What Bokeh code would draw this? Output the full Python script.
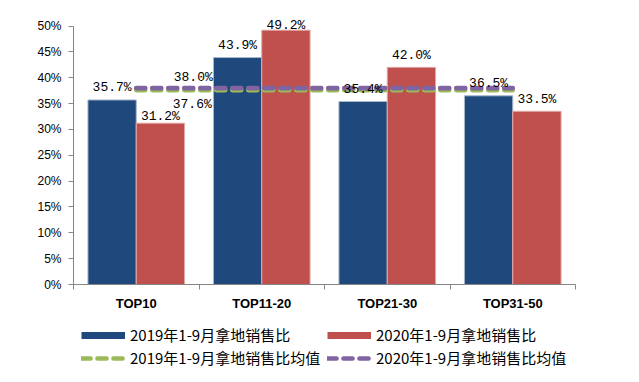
from bokeh.plotting import figure
from bokeh.layouts import column
from bokeh.models import (FixedTicker, PrintfTickFormatter, Legend, LegendItem,
                          ColumnDataSource, Range1d)
from bokeh.core.properties import value
from bokeh.embed import file_html
from bokeh.resources import INLINE

# ---------------- data ----------------
categories = ["TOP10", "TOP11-20", "TOP21-30", "TOP31-50"]
ratio_2019 = [35.7, 43.9, 35.4, 36.5]
ratio_2020 = [31.2, 49.2, 42.0, 33.5]
avg_2019 = [37.6, 37.6, 37.6, 37.6]
avg_2020 = [38.0, 38.0, 38.0, 38.0]
y_ticks = [0, 5, 10, 15, 20, 25, 30, 35, 40, 45, 50]
series_names = ["2019年1-9月拿地销售比", "2020年1-9月拿地销售比",
                "2019年1-9月拿地销售比均值", "2020年1-9月拿地销售比均值"]

# ---------------- styles ----------------
BLUE, RED, GREEN, PURPLE = "#1F497D", "#C0504D", "#9BBB59", "#8064A2"
label_off_2019 = [-12, -12, -12, -12]
label_off_2020 = [-7, -5, -12, -12]
bw = 0.385
LABEL_FONT = value("Liberation Mono")
DASH = "9 7"

n = len(categories)
pos = [i + 0.5 for i in range(n)]

p = figure(width=623, height=318, x_range=Range1d(0, n), y_range=Range1d(0, 53),
           output_backend="svg", toolbar_location=None,
           min_border_left=73, min_border_right=48, min_border_top=10, min_border_bottom=34)
p.outline_line_color = None
p.grid.grid_line_color = None
p.background_fill_color = "white"

# bars
s19 = ColumnDataSource(dict(x=[c - bw / 2 for c in pos], top=ratio_2019,
                            txt=[f"{v:.1f}%" for v in ratio_2019], off=label_off_2019))
s20 = ColumnDataSource(dict(x=[c + bw / 2 for c in pos], top=ratio_2020,
                            txt=[f"{v:.1f}%" for v in ratio_2020], off=label_off_2020))
p.vbar(x="x", top="top", bottom=0, width=bw, source=s19,
       fill_color=BLUE, line_color="#A9B8CC", line_width=1)
p.vbar(x="x", top="top", bottom=0, width=bw, source=s20,
       fill_color=RED, line_color="#E3A9A7", line_width=1)

# average lines
p.line(x=pos, y=avg_2019, line_color=GREEN, line_width=4.7, line_dash=DASH, line_cap="round")
p.line(x=pos, y=avg_2020, line_color=PURPLE, line_width=4.7, line_dash=DASH, line_cap="round")

# bar labels
for s in (s19, s20):
    p.text(x="x", y="top", text="txt", y_offset="off", source=s,
           text_align="center", text_baseline="alphabetic",
           text_font=LABEL_FONT, text_font_size="13px", text_color="#000000")

# average labels
p.text(x=[pos[0]], y=[avg_2020[0]], text=[f"{avg_2020[0]:.1f}%"], x_offset=57, y_offset=-11,
       text_align="center", text_baseline="alphabetic",
       text_font=LABEL_FONT, text_font_size="13px", text_color="#000000")
p.text(x=[pos[0]], y=[avg_2019[0]], text=[f"{avg_2019[0]:.1f}%"], x_offset=56, y_offset=14,
       text_align="center", text_baseline="alphabetic",
       text_font=LABEL_FONT, text_font_size="13px", text_color="#000000")

# axes
yax = p.yaxis[0]
yax.ticker = FixedTicker(ticks=y_ticks)
yax.bounds = (0, 50)
yax.formatter = PrintfTickFormatter(format="%d%%")
yax.axis_line_color = "#868686"
yax.major_tick_line_color = "#868686"
yax.major_tick_out = 5
yax.major_tick_in = 0
yax.minor_tick_line_color = None
yax.major_label_text_font = "Liberation Sans"
yax.major_label_text_font_size = "12px"
yax.major_label_text_color = "#000000"
yax.major_label_standoff = 7

xax = p.xaxis[0]
xax.ticker = FixedTicker(ticks=pos, minor_ticks=list(range(n + 1)))
xax.major_label_overrides = {c: lab for c, lab in zip(pos, categories)}
xax.axis_line_color = "#868686"
xax.major_tick_line_color = None
xax.minor_tick_line_color = "#868686"
xax.minor_tick_out = 5
xax.minor_tick_in = 0
xax.major_label_text_font = "Liberation Sans"
xax.major_label_text_font_style = "bold"
xax.major_label_text_font_size = "13px"
xax.major_label_text_color = "#000000"
xax.major_label_standoff = 5

# ---------------- legend strip ----------------
lg = figure(width=623, height=56, x_range=Range1d(0, 1), y_range=Range1d(0, 1),
            output_backend="svg", toolbar_location=None,
            min_border_left=73, min_border_right=48, min_border_top=0, min_border_bottom=0,
            x_axis_type=None, y_axis_type=None)
lg.outline_line_color = None
lg.grid.grid_line_color = None
nan = [float("nan")]
k19 = lg.line(x=nan, y=nan, line_color=BLUE, line_width=7)
k20 = lg.line(x=nan, y=nan, line_color=RED, line_width=7)
kg = lg.line(x=nan, y=nan, line_color=GREEN, line_width=4.7, line_dash=DASH, line_cap="round")
kp = lg.line(x=nan, y=nan, line_color=PURPLE, line_width=4.7, line_dash=DASH, line_cap="round")
legend = Legend(items=[LegendItem(label=series_names[0], renderers=[k19]),
                       LegendItem(label=series_names[1], renderers=[k20]),
                       LegendItem(label=series_names[2], renderers=[kg]),
                       LegendItem(label=series_names[3], renderers=[kp])],
                location=(8, 6), orientation="horizontal", ncols=2,
                glyph_width=44, glyph_height=20, label_height=20, label_width=195,
                label_standoff=5, spacing=2, padding=0, margin=0,
                border_line_color=None, background_fill_alpha=0,
                label_text_font="Noto Sans CJK SC", label_text_font_size="15px",
                label_text_color="#000000")
lg.add_layout(legend, "center")

open("out.html", "w").write(file_html(column(p, lg, spacing=0), INLINE))
